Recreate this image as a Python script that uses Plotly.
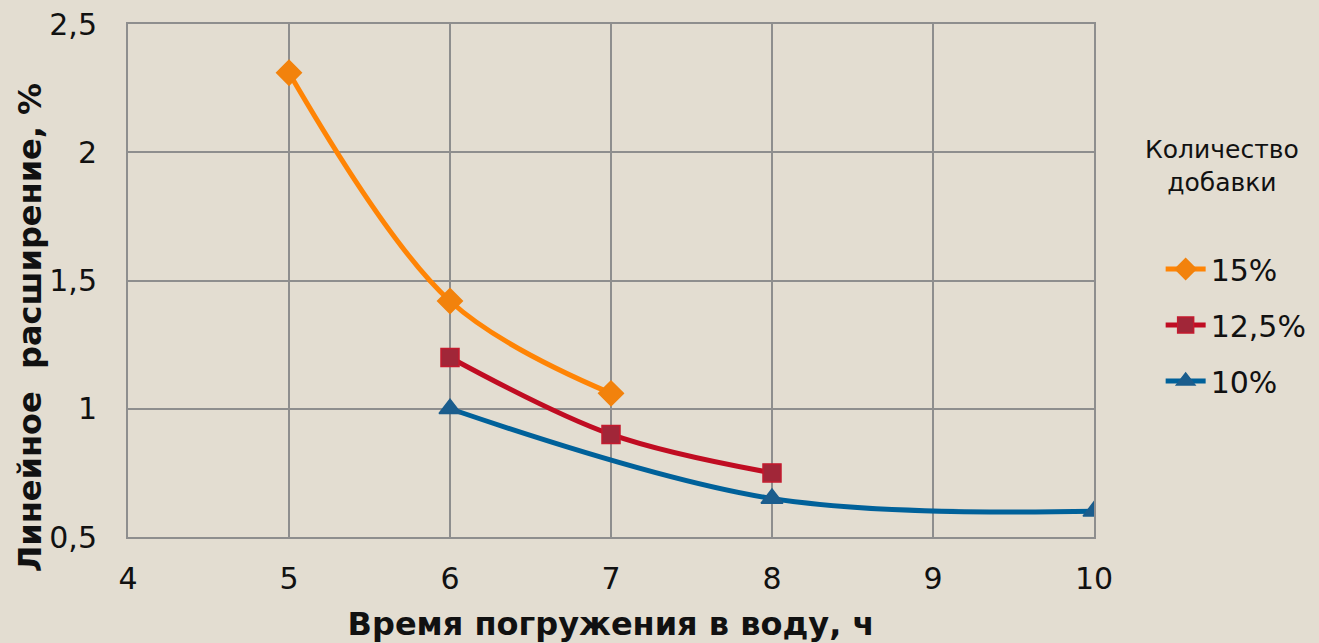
import plotly.graph_objects as go

# Time in water (hours) and linear expansion (%) for each additive amount
hours_15 = [5, 6, 7]
expansion_15 = [2.31, 1.42, 1.06]

hours_125 = [6, 7, 8]
expansion_125 = [1.2, 0.9, 0.75]

hours_10 = [6, 8, 10]
expansion_10 = [1.0, 0.65, 0.6]

x_ticks = [4, 5, 6, 7, 8, 9, 10]
y_ticks = [0.5, 1, 1.5, 2, 2.5]
y_tick_labels = ["0,5", "1", "1,5", "2", "2,5"]

BG = "#E3DDD1"
GRID = "#8E8E8E"
FONT = "DejaVu Sans"
INK = "#111111"

fig = go.Figure()

series = [
    ("15%", hours_15, expansion_15, "#FF8405", "#F2820C", "#F2820C", "diamond", 19),
    ("12,5%", hours_125, expansion_125, "#C00C22", "#A12638", "#C41A2E", "square", 18),
    ("10%", hours_10, expansion_10, "#00619A", "#1B5D8D", "#1B5D8D", "triangle-up", 19),
]

for i, (name, xs, ys, lc, mc, mlc, sym, size) in enumerate(series):
    fig.add_trace(go.Scatter(
        x=xs, y=ys, name=name, mode="lines+markers",
        line=dict(color=lc, width=5, shape="spline", smoothing=1.0),
        marker=dict(symbol=sym, size=size, color=mc,
                    line=dict(color=mlc, width=1.5)),
        legendgroup=f"g{i}",
    ))

fig.update_layout(
    width=1319, height=643,
    paper_bgcolor=BG, plot_bgcolor=BG,
    margin=dict(l=128, r=225, t=24, b=106, autoexpand=False),
    font=dict(family=FONT, size=30, color=INK),
    showlegend=True,
    legend=dict(
        x=1.069, xanchor="left", xref="paper",
        y=0.573, yanchor="top",
        font=dict(size=30, color=INK),
        bgcolor="rgba(0,0,0,0)",
        tracegroupgap=14,
        itemwidth=40,
    ),
    annotations=[
        dict(
            text="Количество<br>добавки", xref="paper", yref="paper",
            x=1.1325, y=0.723, xanchor="center", yanchor="middle",
            showarrow=False, font=dict(size=25, color=INK),
        ),
        dict(
            text="<b>Линейное  расширение, %</b>", xref="paper", yref="paper",
            x=-0.1014, y=0.407, xanchor="center", yanchor="middle",
            textangle=-90, showarrow=False, font=dict(size=32, color=INK),
        ),
    ],
)

fig.update_xaxes(
    range=[4, 10], tickvals=x_ticks, automargin=False,
    showgrid=True, gridcolor=GRID, gridwidth=2,
    showline=True, linecolor=GRID, linewidth=2, mirror=True,
    zeroline=False, ticks="", ticklabelstandoff=14,
    tickfont=dict(size=30),
    title=dict(text="<b>Время погружения в воду, ч</b>", font=dict(size=32), standoff=24),
)
fig.update_yaxes(
    range=[0.5, 2.5], tickvals=y_ticks, ticktext=y_tick_labels, automargin=False,
    showgrid=True, gridcolor=GRID, gridwidth=2,
    showline=True, linecolor=GRID, linewidth=2, mirror=True,
    zeroline=False, ticks="", ticklabelstandoff=23,
    tickfont=dict(size=30),
)

fig.write_html("out.html")
